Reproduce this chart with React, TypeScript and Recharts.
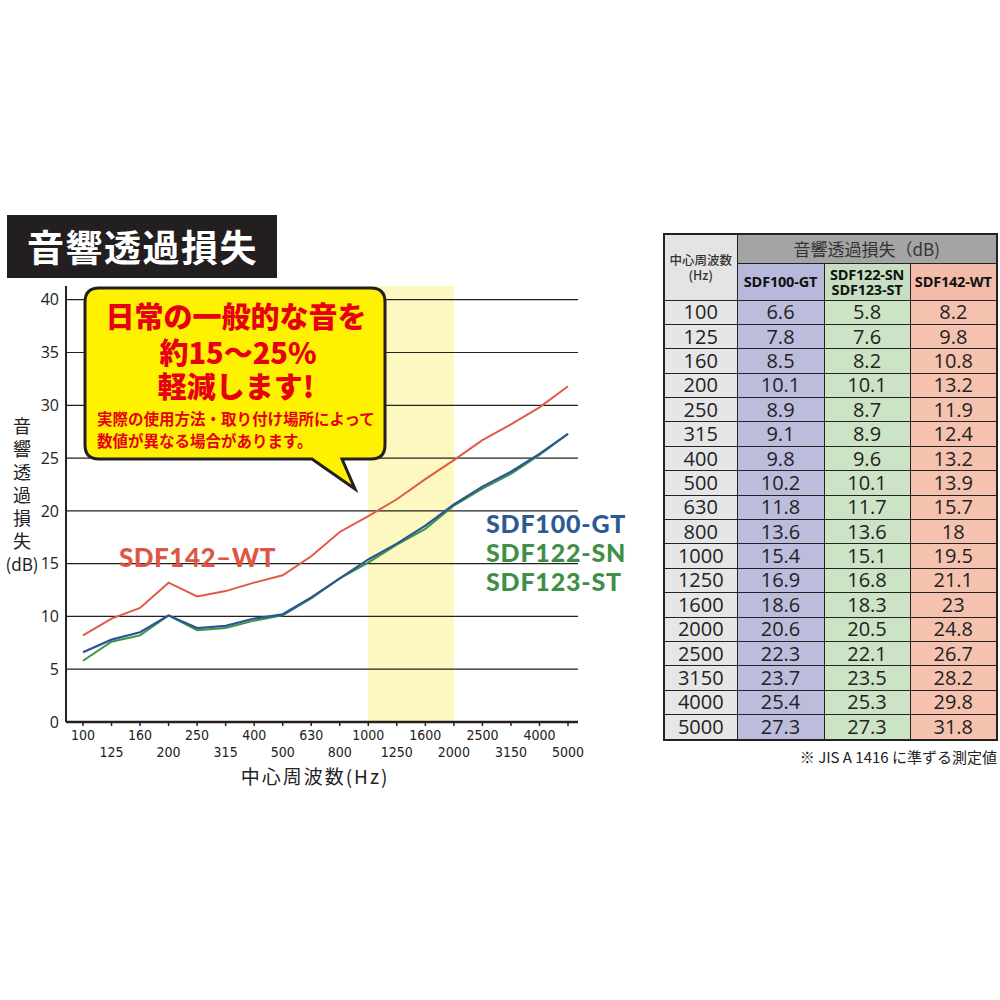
import { LineChart, Line, XAxis, YAxis, ReferenceArea, ReferenceLine } from 'recharts';

const frequencies = ['100', '125', '160', '200', '250', '315', '400', '500', '630', '800', '1000', '1250', '1600', '2000', '2500', '3150', '4000', '5000'];
const sdf100gt = [6.6, 7.8, 8.5, 10.1, 8.9, 9.1, 9.8, 10.2, 11.8, 13.6, 15.4, 16.9, 18.6, 20.6, 22.3, 23.7, 25.4, 27.3];
const sdf122sn = [5.8, 7.6, 8.2, 10.1, 8.7, 8.9, 9.6, 10.1, 11.7, 13.6, 15.1, 16.8, 18.3, 20.5, 22.1, 23.5, 25.3, 27.3];
const sdf142wt = [8.2, 9.8, 10.8, 13.2, 11.9, 12.4, 13.2, 13.9, 15.7, 18, 19.5, 21.1, 23, 24.8, 26.7, 28.2, 29.8, 31.8];
const yTicks = [0, 5, 10, 15, 20, 25, 30, 35, 40];
const gridLines = [5, 10, 15, 20, 25, 30, 35, 40];
const bandStart = '1000';
const bandEnd = '2000';

const data = frequencies.map((freq, i) => ({
  freq,
  gt: sdf100gt[i],
  sn: sdf122sn[i],
  wt: sdf142wt[i],
}));

const JP = '"Noto Sans CJK JP", "Noto Sans", sans-serif';
const NUM = '"Liberation Sans Narrow", "DejaVu Sans Condensed", "Noto Sans", sans-serif';

const FreqTick = (props: any) => {
  const { x, y, payload, index } = props;
  return (
    <text
      x={x}
      y={y + (index % 2 === 0 ? 12 : 29)}
      textAnchor="middle"
      fontSize={14}
      fill="#222"
      fontFamily={NUM}
    >
      {payload.value}
    </text>
  );
};

const yLabelChars = ['音', '響', '透', '過', '損', '失'];

function Callout() {
  return (
    <svg width={1000} height={1000} style={{ position: 'absolute', left: 0, top: 0, pointerEvents: 'none' }}>
      <path
        d="M 99 288 H 371 Q 385 288 385 302 V 445 Q 385 459 371 459 H 342 L 355 489 L 312 459 H 99 Q 85 459 85 445 V 302 Q 85 288 99 288 Z"
        fill="#fff200"
        stroke="#231f20"
        strokeWidth={3}
      />
      <g fill="#e60012" fontFamily={JP} fontWeight={900}>
        <text x={236} y={328} fontSize={29} textAnchor="middle">日常の一般的な音を</text>
        <text x={238} y={364} fontSize={29} textAnchor="middle">約15～25%</text>
        <text x={236} y={398} fontSize={29} textAnchor="middle">軽減します!</text>
        <text x={97} y={425} fontSize={15.5} fontWeight={700}>実際の使用方法・取り付け場所によって</text>
        <text x={97} y={447} fontSize={15.5} fontWeight={700}>数値が異なる場合があります。</text>
      </g>
    </svg>
  );
}

function DataTable() {
  const border = '1.5px solid #222';
  const cell = (bg: string) => ({
    background: bg,
    border,
    padding: 0,
    textAlign: 'center' as const,
    height: 23.4,
    fontSize: 20,
    lineHeight: '20px',
    color: '#222',
    fontFamily: '"Open Sans", "Noto Sans", sans-serif',
  });
  const head = { fontFamily: '"Open Sans", sans-serif', fontWeight: 700, fontSize: 14.5, color: '#111', lineHeight: '15px', letterSpacing: -0.2 };
  return (
    <div style={{ position: 'absolute', left: 663, top: 233, width: 333 }}>
      <table style={{ borderCollapse: 'collapse', width: 333, tableLayout: 'fixed', border: '2px solid #222' }}>
        <colgroup>
          <col style={{ width: 73 }} />
          <col style={{ width: 87 }} />
          <col style={{ width: 86 }} />
          <col style={{ width: 87 }} />
        </colgroup>
        <thead>
          <tr style={{ height: 29 }}>
            <th rowSpan={2} style={{ background: '#e4e4e4', border, padding: 0, fontFamily: JP, fontWeight: 500, fontSize: 12.5, lineHeight: '15px', color: '#333' }}>
              中心周波数
              <br />
              (Hz)
            </th>
            <th colSpan={3} style={{ background: '#a4a4a4', border, padding: 0, fontFamily: JP, fontWeight: 400, fontSize: 17, lineHeight: '20px', color: '#333' }}>
              音響透過損失（dB)
            </th>
          </tr>
          <tr style={{ height: 37 }}>
            <th style={{ ...head, background: '#b8b8da', border, padding: 0 }}>SDF100-GT</th>
            <th style={{ ...head, background: '#c7dfc1', border, padding: 0 }}>
              SDF122-SN
              <br />
              SDF123-ST
            </th>
            <th style={{ ...head, background: '#f3bba8', border, padding: 0 }}>SDF142-WT</th>
          </tr>
        </thead>
        <tbody>
          {frequencies.map((f, i) => (
            <tr key={f} style={{ height: 23.4 }}>
              <td style={cell('#e6e6e6')}>{f}</td>
              <td style={cell('#bcbddd')}>{sdf100gt[i]}</td>
              <td style={cell('#cce3c6')}>{sdf122sn[i]}</td>
              <td style={cell('#f5c2b0')}>{sdf142wt[i]}</td>
            </tr>
          ))}
        </tbody>
      </table>
      <div style={{ textAlign: 'right', fontFamily: JP, fontSize: 15, color: '#222', marginTop: 5, marginRight: -1, whiteSpace: 'nowrap' }}>
        ※ JIS A 1416 に準ずる測定値
      </div>
    </div>
  );
}

export default function App() {
  return (
    <div style={{ position: 'absolute', left: 0, top: 0, width: 1000, height: 1000, background: '#fff', fontFamily: JP }}>
      <div
        style={{
          position: 'absolute',
          left: 7,
          top: 215,
          width: 270,
          height: 63,
          background: '#231f20',
          color: '#fff',
          fontFamily: JP,
          fontWeight: 700,
          fontSize: 37,
          lineHeight: '63px',
          paddingLeft: 20,
          boxSizing: 'border-box',
          letterSpacing: 1.5,
        }}
      >
        音響透過損失
      </div>

      <div style={{ position: 'absolute', left: 0, top: 0 }}>
        <LineChart width={600} height={800} data={data} margin={{ top: 286, right: 22, left: 36, bottom: 28 }}>
          <ReferenceArea x1={bandStart} x2={bandEnd} fill="#fdf8bf" fillOpacity={1} stroke="none" />
          {gridLines.map((v) => (
            <ReferenceLine key={v} y={v} stroke="#222" strokeWidth={1.2} />
          ))}
          <XAxis
            dataKey="freq"
            interval={0}
            padding={{ left: 17, right: 10 }}
            height={50}
            axisLine={{ stroke: '#2a1f1f', strokeWidth: 2.5 }}
            tickLine={{ stroke: '#2a1f1f', strokeWidth: 1.5 }}
            tickSize={4}
            tick={<FreqTick />}
          />
          <YAxis
            width={30}
            domain={[0, 41.3]}
            ticks={yTicks}
            axisLine={{ stroke: '#222', strokeWidth: 2 }}
            tickLine={false}
            tickSize={0}
            tickMargin={7}
            tick={{ fill: '#222', fontSize: 16, fontFamily: '"Open Sans", "Noto Sans", sans-serif' }}
          />
          <Line type="linear" dataKey="sn" stroke="#3c9446" strokeWidth={2} dot={false} isAnimationActive={false} />
          <Line type="linear" dataKey="gt" stroke="#2c5596" strokeWidth={2.2} dot={false} isAnimationActive={false} />
          <Line type="linear" dataKey="wt" stroke="#e05a45" strokeWidth={2} dot={false} isAnimationActive={false} />
        </LineChart>
      </div>

      <Callout />

      <div style={{ position: 'absolute', left: 0, top: 414, width: 44, textAlign: 'center', fontFamily: JP, fontSize: 18, lineHeight: '23px', color: '#222' }}>
        {yLabelChars.map((c) => (
          <div key={c}>{c}</div>
        ))}
        <div style={{ fontSize: 17 }}>(dB)</div>
      </div>

      <div style={{ position: 'absolute', left: 215, top: 762, width: 200, textAlign: 'center', fontFamily: JP, fontSize: 19, letterSpacing: 2, color: '#222' }}>
        中心周波数(Hz)
      </div>

      <div style={{ position: 'absolute', left: 119, top: 540, fontFamily: '"Lato", sans-serif', fontWeight: 900, fontSize: 26, color: '#dc5844', letterSpacing: 0.5, lineHeight: '34px' }}>
        SDF142–WT
      </div>
      <div style={{ position: 'absolute', left: 486, top: 510, fontFamily: '"Lato", sans-serif', fontWeight: 900, fontSize: 25, lineHeight: '27px', letterSpacing: 0.8 }}>
        <div style={{ color: '#2d5a94' }}>SDF100-GT</div>
        <div style={{ color: '#3f8f48', marginTop: 2 }}>SDF122-SN</div>
        <div style={{ color: '#3f8f48', marginTop: 2 }}>SDF123-ST</div>
      </div>

      <DataTable />
    </div>
  );
}
